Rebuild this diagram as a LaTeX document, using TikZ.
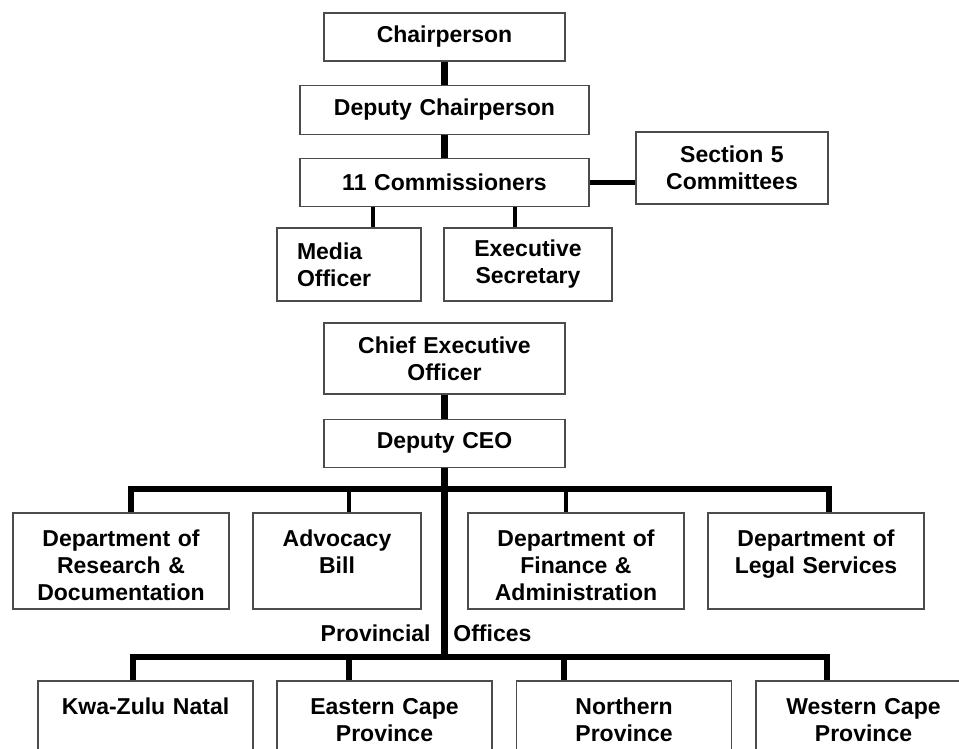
\documentclass[tikz,border=0pt]{standalone}
\usepackage{fontspec}
\setmainfont{Liberation Sans}
\usetikzlibrary{positioning}

\begin{document}
\begin{tikzpicture}[x=0.5pt, y=-0.5pt,
    box/.style={draw=black!70, line width=0.6pt, fill=white, align=center,
                inner xsep=0pt, inner ysep=2pt, text width=#1,
                font=\bfseries\fontsize{11.5}{13.5}\selectfont},
    unit/.style={box=#1, minimum height=48pt, text height=9pt, text depth=24pt},
    lbl/.style={inner sep=0pt, font=\bfseries\fontsize{11.5}{13.5}\selectfont},
    spine/.style={line width=3.5pt},
    bus/.style={line width=3pt, line join=miter},
    link/.style={line width=1.6pt}
]
\useasboundingbox[fill=white] (0,0) rectangle (959,749);
\clip (0,0) rectangle (959,749);

\node[box=120.5pt, minimum height=24pt] (chair) at (444.5,37) {Chairperson};
\node[box=144.5pt, minimum height=24.5pt, below=11.5pt of chair] (dchair) {Deputy Chairperson};
\node[box=144.5pt, minimum height=24pt, below=11.5pt of dchair] (comm) {11 Commissioners};
\node[box=96pt, minimum height=36pt] (sec) at (732,168) {Section 5\\Committees};
\node[box=52pt, inner xsep=10pt, align=left, minimum height=36.5pt] (media) at (349,264.5) {Media\\Officer};
\node[box=84pt, minimum height=36.5pt] (exec) at (528,264.5) {Executive\\Secretary};
\node[box=120.5pt, minimum height=35.5pt] (ceo) at (444.5,358.5) {Chief Executive\\Officer};
\node[box=120.5pt, minimum height=24pt, below=12pt of ceo] (dceo) {Deputy CEO};

\node[unit=108pt] (res) at (121,561) {Department of\\Research \&\\Documentation};
\node[unit=84pt] (adv) at (337,561) {Advocacy\\Bill};
\node[unit=108pt] (fin) at (576,561) {Department of\\Finance \&\\Administration};
\node[unit=108pt] (leg) at (816,561) {Department of\\Legal Services};

\node[lbl, anchor=east] (prov) at (431,633) {Provincial};
\node[lbl, anchor=west] (offi) at (453,633) {Offices};

\node[unit=107.5pt] (kzn) at (145.5,729) {Kwa-Zulu Natal};
\node[unit=107.5pt] (ecp) at (384.5,729) {Eastern Cape\\Province};
\node[unit=107.5pt] (np) at (624,729) {Northern\\Province};
\node[unit=107.5pt] (wcp) at (863.5,729) {Western Cape\\Province};

\draw[spine] (chair) -- (dchair);
\draw[spine] (dchair) -- (comm);
\draw[line width=2.5pt] (comm.east) -- (comm.east -| sec.west);
\coordinate (m1) at (373,216);
\coordinate (m2) at (515,216);
\draw[link] (comm.south -| m1) -- (media.north -| m1);
\draw[link] (comm.south -| m2) -- (exec.north -| m2);
\draw[spine] (ceo) -- (dceo);

\coordinate (a1) at (131,489);
\coordinate (a2) at (349,489);
\coordinate (a3) at (566,489);
\coordinate (a4) at (829,489);
\coordinate (b1) at (133,657);
\coordinate (b2) at (349,657);
\coordinate (b3) at (564,657);
\coordinate (b4) at (827,657);
\draw[spine] (dceo.south) -- (dceo.south |- b1);
\draw[bus] (res.north -| a1) -- (a1) -- (a4) -- (leg.north -| a4);
\draw[link] (a2) -- (adv.north -| a2);
\draw[link] (a3) -- (fin.north -| a3);
\draw[bus] (kzn.north -| b1) -- (b1) -- (b4) -- (wcp.north -| b4);
\draw[bus] (b2) -- (ecp.north -| b2);
\draw[bus] (b3) -- (np.north -| b3);
\end{tikzpicture}
\end{document}
